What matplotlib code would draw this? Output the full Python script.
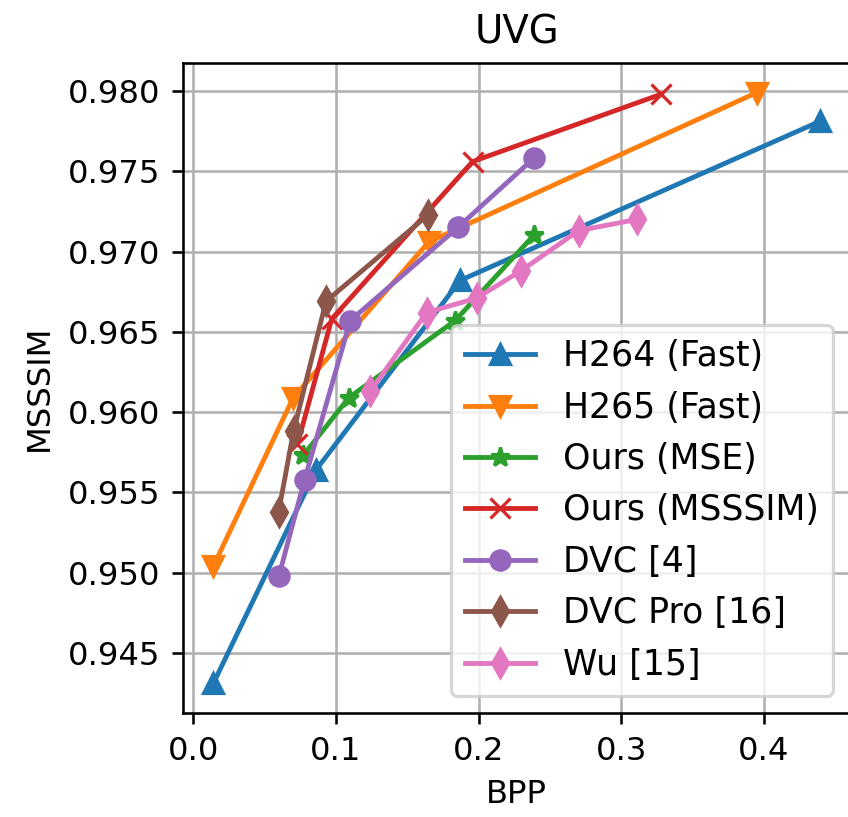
import matplotlib
matplotlib.use("Agg")
import matplotlib.pyplot as plt

DPI = 232

h264_x = [0.014, 0.086, 0.187, 0.439]
h264_y = [0.9431, 0.9564, 0.9682, 0.9781]

h265_x = [0.014, 0.070, 0.165, 0.395]
h265_y = [0.9504, 0.9609, 0.9706, 0.9799]

mse_x = [0.077, 0.109, 0.1835, 0.2385]
mse_y = [0.9573, 0.9609, 0.9657, 0.9710]

msssim_x = [0.073, 0.097, 0.1957, 0.328]
msssim_y = [0.9580, 0.9658, 0.9756, 0.9798]

dvc_x = [0.060, 0.078, 0.110, 0.1854, 0.2385]
dvc_y = [0.9498, 0.9558, 0.9657, 0.9715, 0.9758]

dvcpro_x = [0.0598, 0.0702, 0.093, 0.1648]
dvcpro_y = [0.9538, 0.9588, 0.9669, 0.9723]

wu_x = [0.124, 0.1635, 0.1987, 0.2296, 0.2700, 0.3110]
wu_y = [0.9613, 0.9662, 0.9671, 0.9688, 0.9713, 0.9720]

series = [
    ("H264 (Fast)", h264_x, h264_y, "^"),
    ("H265 (Fast)", h265_x, h265_y, "v"),
    ("Ours (MSE)", mse_x, mse_y, "*"),
    ("Ours (MSSSIM)", msssim_x, msssim_y, "x"),
    ("DVC [4]", dvc_x, dvc_y, "o"),
    ("DVC Pro [16]", dvcpro_x, dvcpro_y, "d"),
    ("Wu [15]", wu_x, wu_y, "d"),
]

W, H = 848, 817
fig = plt.figure(figsize=(W / DPI, H / DPI), dpi=DPI)
ax = fig.add_axes([183 / W, 1 - 713 / H, (850 - 183) / W, (713 - 63) / H])

for label, xs, ys, m in series:
    ax.plot(xs, ys, marker=m, label=label)

ax.grid(True)
ax.set_title("UVG")
ax.set_xlabel("BPP")
ax.set_ylabel("MSSSIM")
ax.legend(loc="lower right", fontsize=10.8)

fig.savefig("out.png", dpi=DPI)
